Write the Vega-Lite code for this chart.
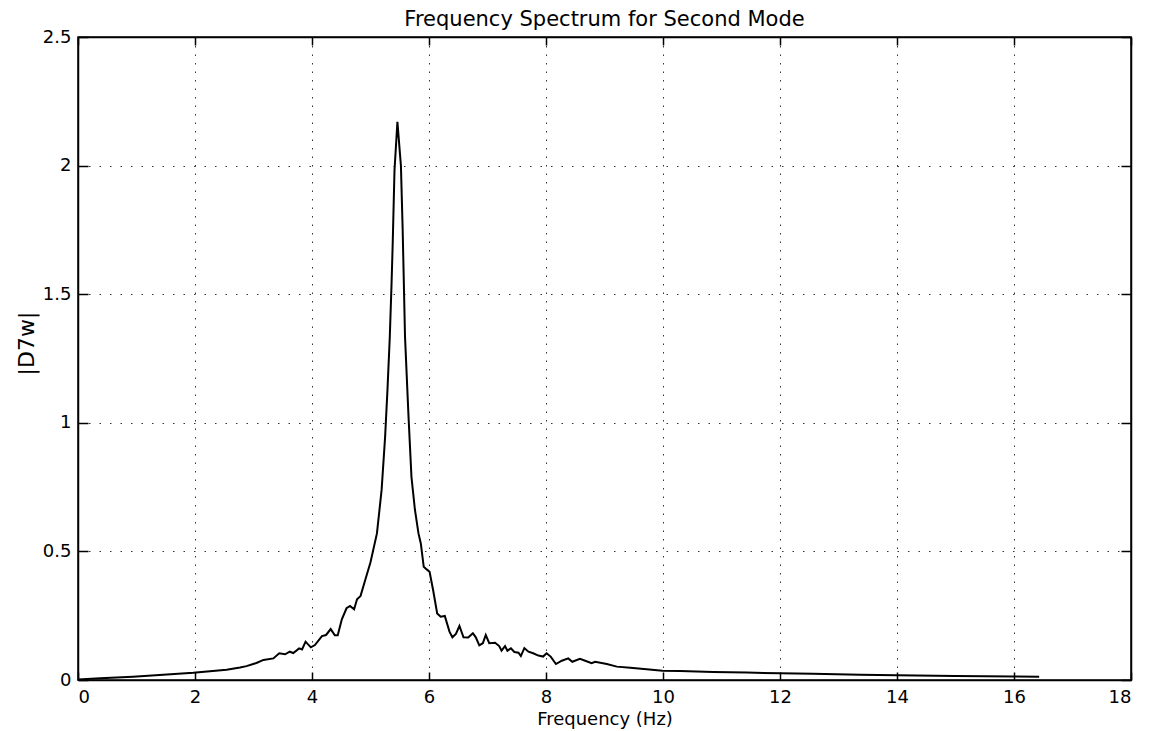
{
  "$schema": "https://vega.github.io/schema/vega-lite/v6.json",
  "autosize": {"type": "none"},
  "width": 1053,
  "height": 643,
  "padding": {"left": 78, "top": 37, "right": 20, "bottom": 51},
  "background": "white",
  "title": {
    "text": "Frequency Spectrum for Second Mode",
    "font": "DejaVu Sans",
    "fontSize": 21,
    "fontWeight": "normal",
    "color": "black",
    "anchor": "middle",
    "frame": "group",
    "offset": -2
  },
  "config": {
    "view": {"stroke": "black", "strokeWidth": 1.5},
    "axis": {
      "labelFont": "DejaVu Sans",
      "labelFontSize": 18,
      "labelColor": "black",
      "titleFont": "DejaVu Sans",
      "titleFontSize": 18,
      "titleFontWeight": "normal",
      "titleColor": "black",
      "domainColor": "black",
      "domainWidth": 1.5,
      "tickColor": "black",
      "tickWidth": 1.5,
      "gridColor": "black",
      "gridOpacity": 0.8,
      "gridWidth": 1
    }
  },
  "data": {
    "values": [
      {"f": 0, "a": 0.002}, {"f": 0.38, "a": 0.007}, {"f": 0.94, "a": 0.013}, {"f": 1.52, "a": 0.021},
      {"f": 1.97, "a": 0.028}, {"f": 2.54, "a": 0.04}, {"f": 2.77, "a": 0.049}, {"f": 2.88, "a": 0.054},
      {"f": 3.05, "a": 0.066}, {"f": 3.17, "a": 0.078}, {"f": 3.34, "a": 0.084}, {"f": 3.44, "a": 0.104},
      {"f": 3.54, "a": 0.1}, {"f": 3.62, "a": 0.11}, {"f": 3.68, "a": 0.105}, {"f": 3.78, "a": 0.123},
      {"f": 3.83, "a": 0.119}, {"f": 3.89, "a": 0.149}, {"f": 3.98, "a": 0.127}, {"f": 4.05, "a": 0.136},
      {"f": 4.17, "a": 0.171}, {"f": 4.24, "a": 0.175}, {"f": 4.32, "a": 0.198}, {"f": 4.39, "a": 0.174},
      {"f": 4.44, "a": 0.174}, {"f": 4.51, "a": 0.236}, {"f": 4.59, "a": 0.279}, {"f": 4.65, "a": 0.288},
      {"f": 4.72, "a": 0.275}, {"f": 4.77, "a": 0.314}, {"f": 4.83, "a": 0.327}, {"f": 4.91, "a": 0.389},
      {"f": 5.0, "a": 0.458}, {"f": 5.11, "a": 0.57}, {"f": 5.19, "a": 0.739}, {"f": 5.25, "a": 0.946},
      {"f": 5.29, "a": 1.128}, {"f": 5.33, "a": 1.335}, {"f": 5.36, "a": 1.542}, {"f": 5.38, "a": 1.7},
      {"f": 5.41, "a": 1.98}, {"f": 5.46, "a": 2.17}, {"f": 5.52, "a": 2.0}, {"f": 5.55, "a": 1.75},
      {"f": 5.59, "a": 1.335}, {"f": 5.65, "a": 1.024}, {"f": 5.7, "a": 0.79}, {"f": 5.76, "a": 0.661},
      {"f": 5.82, "a": 0.57}, {"f": 5.86, "a": 0.531}, {"f": 5.91, "a": 0.44}, {"f": 5.96, "a": 0.43},
      {"f": 6.01, "a": 0.421}, {"f": 6.07, "a": 0.35}, {"f": 6.14, "a": 0.259}, {"f": 6.2, "a": 0.246},
      {"f": 6.27, "a": 0.249}, {"f": 6.35, "a": 0.188}, {"f": 6.4, "a": 0.166}, {"f": 6.46, "a": 0.179},
      {"f": 6.52, "a": 0.21}, {"f": 6.59, "a": 0.166}, {"f": 6.67, "a": 0.165}, {"f": 6.75, "a": 0.182},
      {"f": 6.8, "a": 0.166}, {"f": 6.86, "a": 0.135}, {"f": 6.92, "a": 0.143}, {"f": 6.97, "a": 0.175},
      {"f": 7.03, "a": 0.143}, {"f": 7.13, "a": 0.145}, {"f": 7.2, "a": 0.132}, {"f": 7.24, "a": 0.114},
      {"f": 7.3, "a": 0.132}, {"f": 7.34, "a": 0.114}, {"f": 7.4, "a": 0.123}, {"f": 7.46, "a": 0.109},
      {"f": 7.53, "a": 0.106}, {"f": 7.57, "a": 0.093}, {"f": 7.63, "a": 0.124}, {"f": 7.7, "a": 0.11},
      {"f": 7.78, "a": 0.104}, {"f": 7.87, "a": 0.095}, {"f": 7.95, "a": 0.091}, {"f": 8.01, "a": 0.104},
      {"f": 8.08, "a": 0.091}, {"f": 8.17, "a": 0.062}, {"f": 8.27, "a": 0.075}, {"f": 8.38, "a": 0.084},
      {"f": 8.45, "a": 0.071}, {"f": 8.58, "a": 0.082}, {"f": 8.67, "a": 0.075}, {"f": 8.78, "a": 0.065},
      {"f": 8.84, "a": 0.071}, {"f": 9.04, "a": 0.062}, {"f": 9.21, "a": 0.052}, {"f": 9.44, "a": 0.048},
      {"f": 9.72, "a": 0.042}, {"f": 9.99, "a": 0.036}, {"f": 10.29, "a": 0.035}, {"f": 10.86, "a": 0.031},
      {"f": 11.43, "a": 0.029}, {"f": 12.0, "a": 0.026}, {"f": 12.56, "a": 0.024}, {"f": 13.37, "a": 0.02},
      {"f": 14.0, "a": 0.018}, {"f": 15.0, "a": 0.016}, {"f": 16.0, "a": 0.014}, {"f": 16.43, "a": 0.013}
    ]
  },
  "layer": [
    {
      "mark": {"type": "line", "color": "black", "strokeWidth": 2, "clip": true},
      "encoding": {
        "x": {
          "field": "f", "type": "quantitative",
          "scale": {"domain": [0, 18], "nice": false},
          "axis": {
            "title": "Frequency (Hz)",
            "values": [0, 2, 4, 6, 8, 10, 12, 14, 16, 18],
            "format": "~g",
            "tickSize": -8,
            "labelPadding": 16,
            "titlePadding": 4,
            "grid": true,
            "gridDash": [1.5, 7]
          }
        },
        "y": {
          "field": "a", "type": "quantitative",
          "scale": {"domain": [0, 2.5], "nice": false},
          "axis": {
            "title": "|D7w|",
            "titleFontSize": 22,
            "titleY": 306,
            "values": [0, 0.5, 1, 1.5, 2, 2.5],
            "format": "~g",
            "tickSize": -10,
            "labelPadding": 17,
            "titlePadding": 4,
            "grid": true,
            "gridDash": [1.5, 9]
          }
        }
      }
    },
    {
      "mark": {"type": "line", "opacity": 0},
      "encoding": {
        "x": {
          "field": "f", "type": "quantitative",
          "axis": {"orient": "top", "title": null, "labels": false, "grid": false,
                   "values": [0, 2, 4, 6, 8, 10, 12, 14, 16, 18], "tickSize": -8}
        },
        "y": {
          "field": "a", "type": "quantitative",
          "axis": {"orient": "right", "title": null, "labels": false, "grid": false,
                   "values": [0, 0.5, 1, 1.5, 2, 2.5], "tickSize": -10}
        }
      }
    }
  ],
  "resolve": {"axis": {"x": "independent", "y": "independent"}}
}
